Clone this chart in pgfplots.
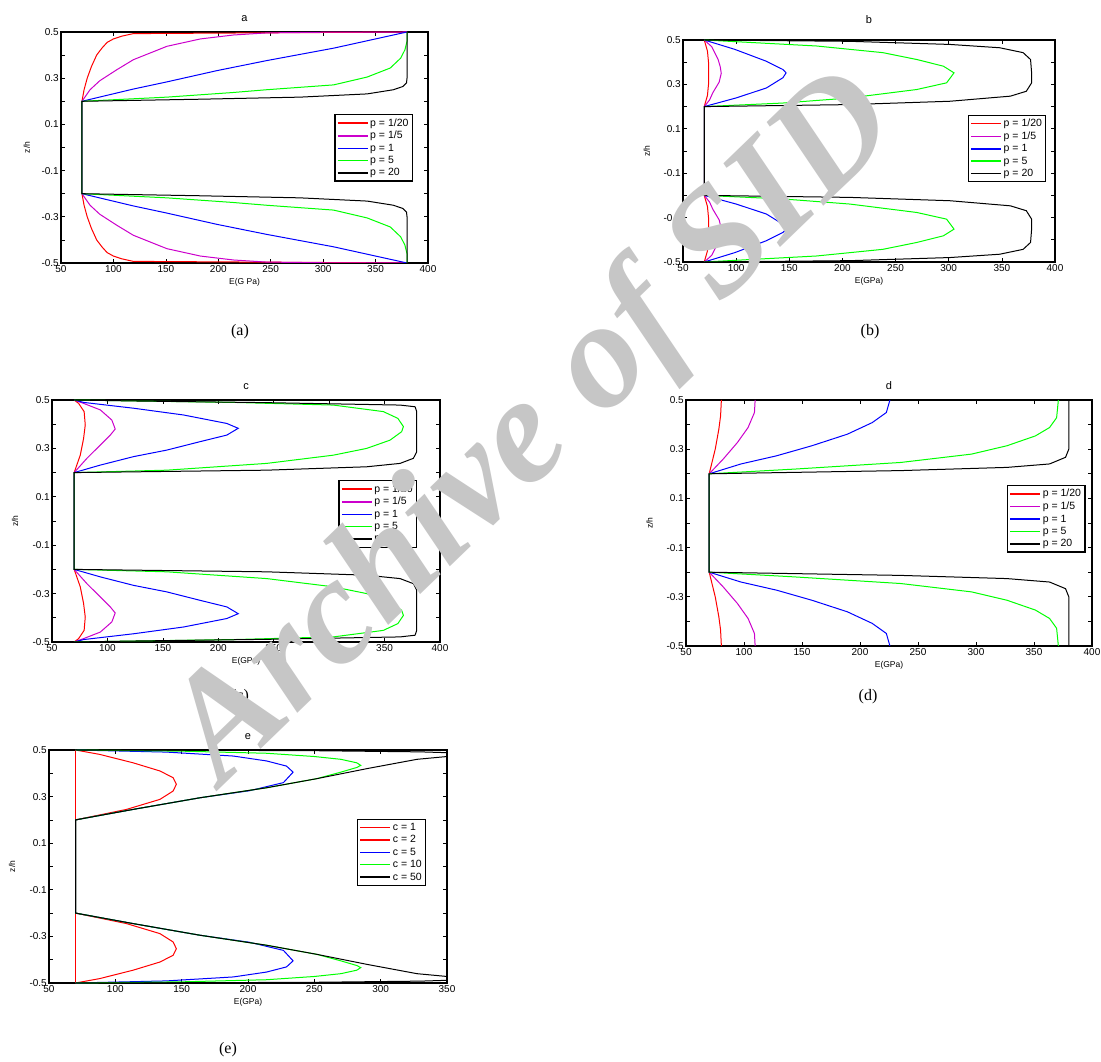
\documentclass[border=0pt]{standalone}
\usepackage{fontspec}
\setmainfont{Liberation Sans}
\newfontfamily\seriffont{Liberation Serif}
\usepackage{pgfplots}
\pgfplotsset{compat=1.18}
\definecolor{mred}{rgb}{1,0,0}
\definecolor{mmag}{rgb}{0.8,0,0.8}
\definecolor{mblue}{rgb}{0,0,1}
\definecolor{mgreen}{rgb}{0,1,0}
\definecolor{wm}{RGB}{198,198,198}
\pgfplotsset{
 panel/.style={
  scale only axis, anchor=south west,
  ymin=-0.5,ymax=0.5,
  xtick={50,100,150,200,250,300,350,400},
  xticklabels={50,100,150,200,250,300,350,400},
  ytick={-0.5,-0.4,-0.3,-0.2,-0.1,0,0.1,0.2,0.3,0.4,0.5},
  yticklabels={-0.5,,-0.3,,-0.1,,0.1,,0.3,,0.5},
  tick align=inside, xtick pos=both, ytick pos=both,
  major tick length=4pt,
  axis line style={line width=1.2pt},
  every tick/.style={black, line width=0.7pt},
  ticklabel style={font=\fontsize{10}{11}\selectfont},
  xticklabel style={inner sep=2pt},
  yticklabel style={inner sep=2pt},
  title style={at={(axis description cs:0.5,1)}, anchor=base, yshift=4pt, font=\fontsize{11}{12}\selectfont},
  xlabel style={at={(axis description cs:0.5,0)}, anchor=north, yshift=-12pt, font=\fontsize{8.5}{9}\selectfont},
  ylabel={z/h},
  ylabel style={anchor=center, font=\fontsize{8.5}{9}\selectfont},
  every axis plot/.append style={line width=1pt},
  legend cell align=left,
  legend style={anchor=north east, draw=black, line width=1.4pt, font=\fontsize{10.5}{12}\selectfont, inner xsep=2pt, inner ysep=2pt, nodes={inner sep=1.8pt}, row sep=0pt},
  legend image code/.code={\draw[#1, line width=1.5pt] (0pt,0pt) -- (30pt,0pt);},
 },
}
\begin{document}
\begin{tikzpicture}
\useasboundingbox (0pt,0pt) rectangle (1101pt,1061pt);
\clip (0pt,0pt) rectangle (1101pt,1061pt);
\fill[white] (0pt,0pt) rectangle (1101pt,1061pt);

% ---------------- a ----------------
\begin{axis}[panel, at={(61pt,798pt)}, width=367pt, height=231pt, xmin=50, xmax=400,
  title={a}, xlabel={E(G Pa)}, ylabel style={at={(axis description cs:-0.093,0.5)}},
  legend style={at={(0.959,0.645)}}]
\addplot[mred] coordinates {(380,-0.5) (119,-0.493) (108,-0.482) (100,-0.47) (94,-0.455) (89,-0.43) (84,-0.4) (79,-0.35) (75,-0.3) (72,-0.25) (70,-0.2) (70,0.2) (72,0.25) (75,0.3) (79,0.35) (84,0.4) (89,0.43) (94,0.455) (100,0.47) (108,0.482) (119,0.493) (380,0.5)};
\addplot[mmag] coordinates {(380,-0.5) (300,-0.499) (246,-0.496) (214.5,-0.487) (183,-0.47) (151,-0.438) (135,-0.409) (119,-0.38) (103,-0.336) (87,-0.289) (77.7,-0.25) (70,-0.2) (70,0.2) (77.7,0.25) (87,0.289) (103,0.336) (119,0.38) (135,0.409) (151,0.438) (183,0.47) (214.5,0.487) (246,0.496) (300,0.499) (380,0.5)};
\addplot[mblue] coordinates {(380,-0.5) (310,-0.43) (246,-0.376) (199,-0.333) (150,-0.283) (119,-0.253) (70,-0.2) (70,0.2) (119,0.253) (150,0.283) (199,0.333) (246,0.376) (310,0.43) (380,0.5)};
\addplot[mgreen] coordinates {(380,-0.5) (380,-0.46) (378,-0.423) (374,-0.387) (364,-0.344) (342,-0.305) (310,-0.271) (246,-0.25) (214,-0.238) (151,-0.218) (70,-0.2) (70,0.2) (151,0.218) (214,0.238) (246,0.25) (310,0.271) (342,0.305) (364,0.344) (374,0.387) (378,0.423) (380,0.46) (380,0.5)};
\addplot[black] coordinates {(380,-0.5) (380,-0.3) (379.5,-0.28) (376,-0.264) (367,-0.25) (342,-0.232) (278,-0.218) (183,-0.209) (70,-0.2) (70,0.2) (183,0.209) (278,0.218) (342,0.232) (367,0.25) (376,0.264) (379.5,0.28) (380,0.3) (380,0.5)};
\legend{p = 1/20, p = 1/5, p = 1, p = 5, p = 20}
\end{axis}

% ---------------- b ----------------
\begin{axis}[panel, at={(683pt,799pt)}, width=372pt, height=222pt, xmin=50, xmax=400,
  title={b}, title style={yshift=6pt}, xlabel={E(GPa)}, ylabel style={at={(axis description cs:-0.097,0.5)}},
  legend style={at={(0.977,0.664)}}]
\addplot[mred] coordinates {(70,-0.5) (73,-0.45) (74,-0.4) (74,-0.35) (74,-0.3) (73,-0.25) (70,-0.2) (70,0.2) (73,0.25) (74,0.3) (74,0.35) (74,0.4) (73,0.45) (70,0.5)};
\addplot[mmag] coordinates {(70,-0.5) (77,-0.47) (83,-0.413) (85,-0.38) (86,-0.35) (84,-0.31) (78,-0.262) (75,-0.23) (70,-0.2) (70,0.2) (75,0.23) (78,0.262) (84,0.31) (86,0.35) (85,0.38) (83,0.413) (77,0.47) (70,0.5)};
\addplot[mblue] coordinates {(70,-0.5) (98.6,-0.458) (128,-0.405) (144,-0.367) (147,-0.352) (144,-0.33) (128.5,-0.284) (100,-0.239) (70,-0.2) (70,0.2) (100,0.239) (128.5,0.284) (144,0.33) (147,0.352) (144,0.367) (128,0.405) (98.6,0.458) (70,0.5)};
\addplot[mgreen] coordinates {(70,-0.5) (175.5,-0.473) (238,-0.443) (270,-0.412) (295,-0.382) (305,-0.352) (298,-0.307) (270,-0.277) (207,-0.239) (144,-0.216) (70,-0.2) (70,0.2) (144,0.216) (207,0.239) (270,0.277) (298,0.307) (305,0.352) (295,0.382) (270,0.412) (238,0.443) (175.5,0.473) (70,0.5)};
\addplot[black] coordinates {(70,-0.5) (207,-0.494) (301,-0.48) (348,-0.465) (370,-0.443) (377,-0.412) (378,-0.352) (378,-0.307) (373,-0.269) (358,-0.247) (301,-0.224) (207,-0.209) (70,-0.2) (70,0.2) (207,0.209) (301,0.224) (358,0.247) (373,0.269) (378,0.307) (378,0.352) (377,0.412) (370,0.443) (348,0.465) (301,0.48) (207,0.494) (70,0.5)};
\legend{p = 1/20, p = 1/5, p = 1, p = 5, p = 20}
\end{axis}

% ---------------- c ----------------
\begin{axis}[panel, at={(52pt,419pt)}, width=388pt, height=242pt, xmin=50, xmax=400,
  title={c}, xlabel={E(GPa)}, ylabel style={at={(axis description cs:-0.095,0.5)}},
  legend style={at={(0.941,0.669)}}]
\addplot[mred] coordinates {(70,-0.5) (74,-0.486) (79,-0.452) (80,-0.397) (78.5,-0.341) (75.5,-0.272) (70,-0.2) (70,0.2) (75.5,0.272) (78.5,0.341) (80,0.397) (79,0.452) (74,0.486) (70,0.5)};
\addplot[mmag] coordinates {(70,-0.5) (78.5,-0.486) (93.6,-0.459) (104,-0.417) (107,-0.38) (102.6,-0.355) (93.6,-0.314) (81.5,-0.259) (70,-0.2) (70,0.2) (81.5,0.259) (93.6,0.314) (102.6,0.355) (107,0.38) (104,0.417) (93.6,0.459) (78.5,0.486) (70,0.5)};
\addplot[mblue] coordinates {(70,-0.5) (78.5,-0.49) (123.6,-0.466) (168.7,-0.438) (207.7,-0.403) (218,-0.383) (207.7,-0.355) (183.7,-0.328) (153.6,-0.293) (123.6,-0.266) (93.6,-0.231) (70,-0.2) (70,0.2) (93.6,0.231) (123.6,0.266) (153.6,0.293) (183.7,0.328) (207.7,0.355) (218,0.383) (207.7,0.403) (168.7,0.438) (123.6,0.466) (78.5,0.49) (70,0.5)};
\addplot[mgreen] coordinates {(70,-0.5) (123.6,-0.496) (213.7,-0.49) (303.8,-0.479) (348.9,-0.452) (362,-0.424) (367,-0.39) (365.4,-0.369) (354.9,-0.334) (333.9,-0.3) (303.8,-0.272) (243.7,-0.238) (153.6,-0.21) (70,-0.2) (70,0.2) (153.6,0.21) (243.7,0.238) (303.8,0.272) (333.9,0.3) (354.9,0.334) (365.4,0.369) (367,0.39) (362,0.424) (348.9,0.452) (303.8,0.479) (213.7,0.49) (123.6,0.496) (70,0.5)};
\addplot[black] coordinates {(70,-0.5) (123.6,-0.496) (243.7,-0.489) (364,-0.479) (377.5,-0.472) (379,-0.452) (379,-0.286) (376,-0.259) (364,-0.238) (333.9,-0.224) (243.7,-0.21) (70,-0.2) (70,0.2) (243.7,0.21) (333.9,0.224) (364,0.238) (376,0.259) (379,0.286) (379,0.452) (377.5,0.472) (364,0.479) (243.7,0.489) (123.6,0.496) (70,0.5)};
\legend{p = 1/20, p = 1/5, p = 1, p = 5, p = 20}
\end{axis}

% ---------------- d ----------------
\begin{axis}[panel, at={(686pt,415pt)}, width=406pt, height=246pt, xmin=50, xmax=400,
  title={d}, xlabel={E(GPa)}, ylabel style={at={(axis description cs:-0.09,0.5)}},
  legend style={at={(0.984,0.655)}}]
\addplot[mred] coordinates {(80.5,-0.5) (79.8,-0.435) (78.3,-0.381) (75.2,-0.3) (70,-0.2) (70,0.2) (75.2,0.3) (78.3,0.381) (79.8,0.435) (80.5,0.5)};
\addplot[mmag] coordinates {(109.6,-0.5) (109,-0.449) (103.5,-0.388) (94.3,-0.327) (82.1,-0.26) (70,-0.2) (70,0.2) (82.1,0.26) (94.3,0.327) (103.5,0.388) (109,0.449) (109.6,0.5)};
\addplot[mblue] coordinates {(225.8,-0.5) (222.7,-0.449) (210.5,-0.408) (189.1,-0.361) (158.5,-0.314) (128,-0.273) (97.4,-0.24) (70,-0.2) (70,0.2) (97.4,0.24) (128,0.273) (158.5,0.314) (189.1,0.361) (210.5,0.408) (222.7,0.449) (225.8,0.5)};
\addplot[mgreen] coordinates {(371,-0.5) (369.5,-0.428) (363.4,-0.388) (351.2,-0.354) (326.7,-0.314) (296.1,-0.28) (235,-0.246) (143.2,-0.219) (70,-0.2) (70,0.2) (143.2,0.219) (235,0.246) (296.1,0.28) (326.7,0.314) (351.2,0.354) (363.4,0.388) (369.5,0.428) (371,0.5)};
\addplot[black] coordinates {(380,-0.5) (380,-0.3) (377.2,-0.267) (363.4,-0.24) (326.7,-0.226) (235,-0.213) (70,-0.2) (70,0.2) (235,0.213) (326.7,0.226) (363.4,0.24) (377.2,0.267) (380,0.3) (380,0.5)};
\legend{p = 1/20, p = 1/5, p = 1, p = 5, p = 20}
\end{axis}

% ---------------- e ----------------
\begin{axis}[panel, at={(49pt,78pt)}, width=398pt, height=233pt, xmin=50, xmax=350,
  xtick={50,100,150,200,250,300,350}, xticklabels={50,100,150,200,250,300,350},
  title={e}, xlabel={E(GPa)}, ylabel style={at={(axis description cs:-0.093,0.5)}},
  legend style={at={(0.948,0.705)}}]
\addplot[mred] coordinates {(70,-0.5) (70,0.5)};
\addplot[mred] coordinates {(70,-0.5) (88.3,-0.481) (113.4,-0.445) (133.6,-0.41) (143.6,-0.381) (146,-0.353) (143.6,-0.324) (133.6,-0.288) (108.4,-0.245) (70,-0.2) (70,0.2) (108.4,0.245) (133.6,0.288) (143.6,0.324) (146,0.353) (143.6,0.381) (133.6,0.41) (113.4,0.445) (88.3,0.481) (70,0.5)};
\addplot[mblue] coordinates {(70,-0.5) (138.6,-0.491) (189,-0.474) (214,-0.453) (229,-0.431) (234,-0.405) (226.7,-0.36) (201,-0.325) (163.8,-0.295) (113.4,-0.245) (70,-0.2) (70,0.2) (113.4,0.245) (163.8,0.295) (201,0.325) (226.7,0.36) (234,0.405) (229,0.431) (214,0.453) (189,0.474) (138.6,0.491) (70,0.5)};
\addplot[mgreen] coordinates {(70,-0.5) (150,-0.495) (214,-0.486) (250,-0.472) (270,-0.46) (282,-0.445) (285,-0.434) (282,-0.425) (270,-0.405) (251.9,-0.377) (214.1,-0.338) (163.8,-0.295) (113.4,-0.245) (70,-0.2) (70,0.2) (113.4,0.245) (163.8,0.295) (214.1,0.338) (251.9,0.377) (270,0.405) (282,0.425) (285,0.434) (282,0.445) (270,0.46) (250,0.472) (214,0.486) (150,0.495) (70,0.5)};
\addplot[black] coordinates {(70,-0.5) (150,-0.499) (250,-0.497) (330,-0.492) (375,-0.484) (350,-0.472) (327.4,-0.46) (289.6,-0.42) (251.9,-0.377) (214.1,-0.338) (163.8,-0.295) (113.4,-0.245) (70,-0.2) (70,0.2) (113.4,0.245) (163.8,0.295) (214.1,0.338) (251.9,0.377) (289.6,0.42) (327.4,0.46) (350,0.472) (375,0.484) (330,0.492) (250,0.497) (150,0.499) (70,0.5)};
\legend{c = 1, c = 2, c = 5, c = 10, c = 50}
\end{axis}

% captions
\node[font={\fontsize{16}{18}\selectfont\seriffont}] at (240pt,729pt) {(a)};
\node[font={\fontsize{16}{18}\selectfont\seriffont}] at (870pt,729pt) {(b)};
\node[font={\fontsize{16}{18}\selectfont\seriffont}] at (240pt,364pt) {(c)};
\node[font={\fontsize{16}{18}\selectfont\seriffont}] at (868pt,364pt) {(d)};
\node[font={\fontsize{16}{18}\selectfont\seriffont}] at (228pt,11pt) {(e)};

% watermark
\node[rotate=44, text=wm, font={\fontsize{152}{152}\selectfont\seriffont\bfseries\itshape}] at (537pt,630pt) {Archive of SID};
\end{tikzpicture}
\end{document}
